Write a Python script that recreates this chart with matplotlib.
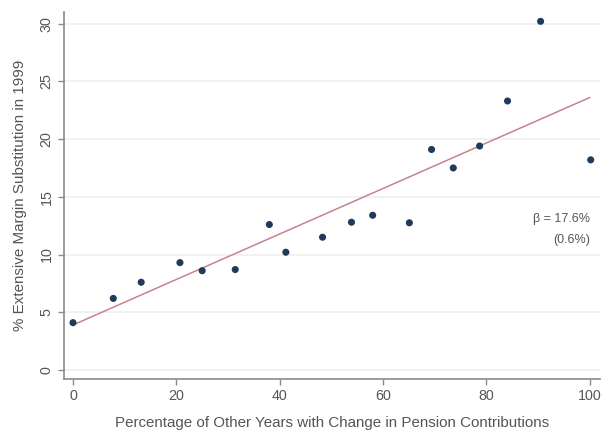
import matplotlib
matplotlib.use("Agg")
import matplotlib.pyplot as plt
import numpy as np

# binned scatter: share of other years with contribution change vs. substitution
pct_other_years = [0.0, 7.8, 13.2, 20.7, 25.0, 31.4, 38.0, 41.2, 48.3, 53.9, 58.0, 65.1,
                   69.4, 73.6, 78.7, 84.1, 90.5, 100.2]
pct_substitution = [4.1, 6.2, 7.6, 9.3, 8.6, 8.7, 12.6, 10.2, 11.5, 12.8, 13.4, 12.75,
                    19.1, 17.5, 19.4, 23.3, 30.2, 18.2]

# fitted line (intercept, slope per pct point)
fit_intercept = 3.9
fit_slope = 0.197
fit_range = [0, 100]

beta_text = "β = 17.6%"
se_text = "(0.6%)"

xticks = [0, 20, 40, 60, 80, 100]
yticks = [0, 5, 10, 15, 20, 25, 30]

plt.rcParams['font.family'] = ['Liberation Sans', 'DejaVu Sans']
txt_col = '#555555'
ax_col = '#8a8a8a'

fig = plt.figure(figsize=(6.02, 4.32), dpi=100)
ax = fig.add_axes([0.1063, 0.1227, 0.8904, 0.8493])

for y in yticks:
    ax.axhline(y, color='#efefef', lw=1.2, zorder=0)

fx = np.array(fit_range, dtype=float)
ax.plot(fx, fit_intercept + fit_slope * fx, color='#c4868a', lw=1.1, zorder=2)
ax.scatter(pct_other_years, pct_substitution, s=26, color='#1f3b5a', zorder=3, edgecolors='none')

ax.text(100, 13.1, beta_text, ha='right', va='center', fontsize=9, color=txt_col)
ax.text(100, 11.3, se_text, ha='right', va='center', fontsize=9, color=txt_col)

ax.set_xlim(-1.74, 102)
ax.set_ylim(-0.78, 31.0)
ax.set_xticks(xticks)
ax.set_yticks(yticks)
ax.tick_params(axis='both', colors=ax_col, labelcolor=txt_col, labelsize=10.3, length=4, width=1)
plt.setp(ax.get_yticklabels(), rotation=90, va='center')

for s in ['top', 'right']:
    ax.spines[s].set_visible(False)
for s in ['left', 'bottom']:
    ax.spines[s].set_color(ax_col)
    ax.spines[s].set_linewidth(1.2)

ax.set_xlabel("Percentage of Other Years with Change in Pension Contributions", fontsize=10.9, color=txt_col, labelpad=9)
ax.set_ylabel("% Extensive Margin Substitution in 1999", fontsize=10.9, color=txt_col, labelpad=9)

fig.savefig("out.png", dpi=100)
